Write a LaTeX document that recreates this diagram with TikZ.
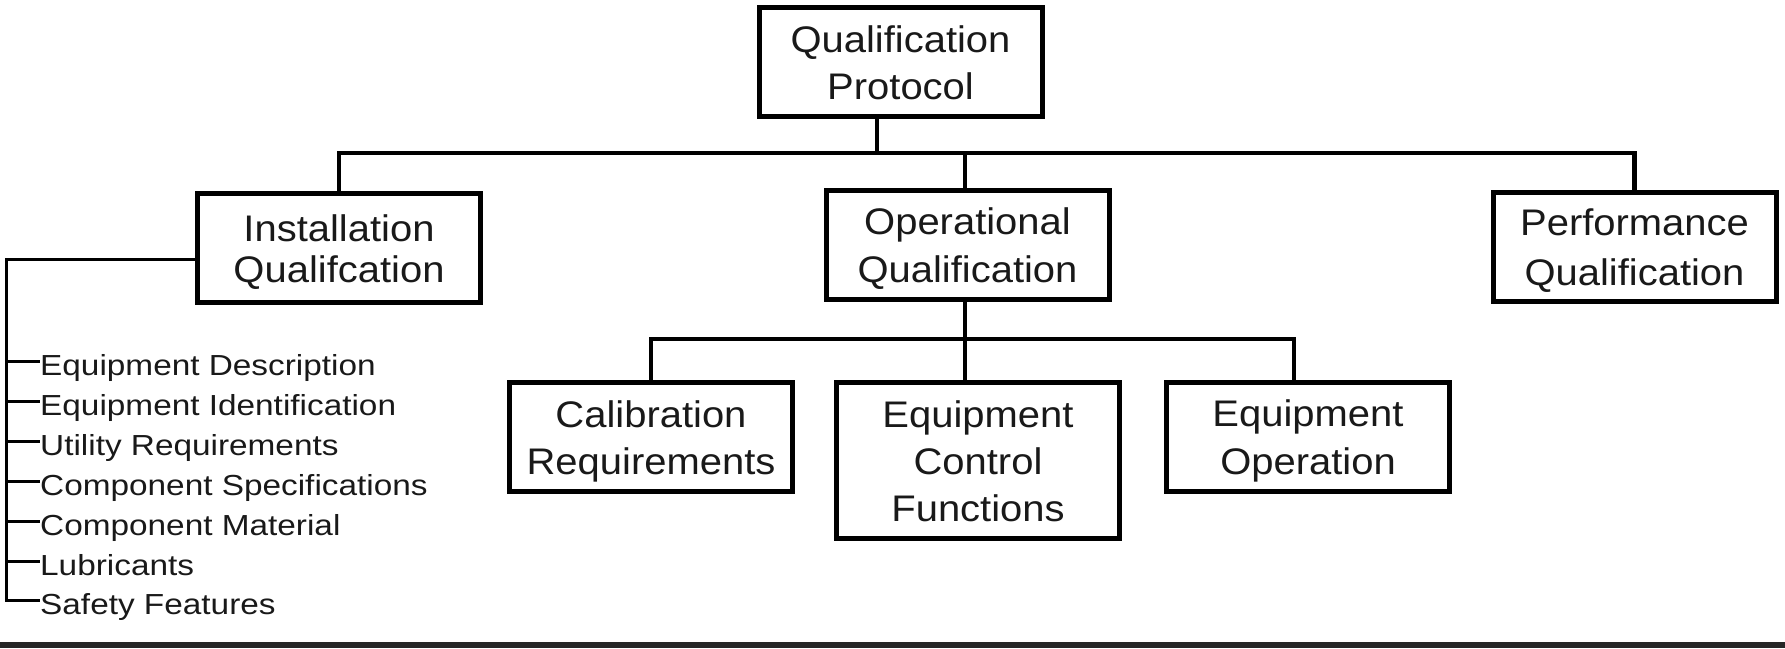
\documentclass[tikz,border=0pt]{standalone}
\usepackage{fontspec}
\setmainfont{Liberation Sans}
\newfontfamily\boxfont{Liberation Sans}[FakeStretch=1.08]
\newfontfamily\itemfont{Liberation Sans}[FakeStretch=1.15]
\begin{document}
\begin{tikzpicture}[x=1pt,y=-1pt,
  box/.style={draw=black, line width=5pt, minimum width=283pt, minimum height=109pt,
    inner sep=0pt, align=center, text=black!90, text height=74pt, text depth=0pt,
    font=\boxfont\fontsize{37}{47}\selectfont},
  threeline/.style={text height=121pt, minimum height=156pt},
  conn/.style={line width=4.5pt},
  thinline/.style={line width=3pt},
  item/.style={anchor=west, inner sep=0pt, text=black!90, text height=28pt, text depth=0pt,
    font=\itemfont\fontsize{29}{35}\selectfont}]
\useasboundingbox (0,0) rectangle (1785,648);

% boxes
\node[box] (qp)  at (900.5,62)  {Qualification\\Protocol};
\node[box, text height=68pt, font=\boxfont\fontsize{37}{41}\selectfont] (iq) at (339,248) {Installation\\Qualifcation};
\node[box, text height=75pt, font=\boxfont\fontsize{37}{48}\selectfont] (oq) at (967.5,245) {Operational\\Qualification};
\node[box, text height=77pt, font=\boxfont\fontsize{37}{50}\selectfont] (pq) at (1634.5,247) {Performance\\Qualification};
\node[box] (cr)  at (651,437)   {Calibration\\Requirements};
\node[box, threeline] (ecf) at (978,460.5) {Equipment\\Control\\Functions};
\node[box, text height=75pt, font=\boxfont\fontsize{37}{48}\selectfont] (eo) at (1308,436.5) {Equipment\\Operation};

% main bus
\coordinate (bus) at (877,153);
\draw[conn] (bus |- qp.south) -- (bus);
\draw[conn] (iq.north) -- (iq.north |- bus) -- (pq.north |- bus) -- (pq.north);
\draw[conn] ([xshift=-2.5pt]oq.north |- bus) -- ([xshift=-2.5pt]oq.north);

% operational sub bus
\coordinate (sbus) at (965,339);
\draw[conn] ([xshift=-2.5pt]oq.south) -- ([xshift=-2.5pt]oq.south |- ecf.north);
\draw[conn] (cr.north) -- (cr.north |- sbus) -- ([xshift=-14pt]eo.north |- sbus) -- ([xshift=-14pt]eo.north);

% list items
\node[item] (i1) at (40,361) {Equipment Description};
\node[item] (i2) at (40,401) {Equipment Identification};
\node[item] (i3) at (40,441) {Utility Requirements};
\node[item] (i4) at (40,481) {Component Specifications};
\node[item] (i5) at (40,521) {Component Material};
\node[item] (i6) at (40,561) {Lubricants};
\node[item] (i7) at (40,600) {Safety Features};

\coordinate (vt) at (6,259);
\draw[thinline] ([yshift=-11pt]iq.west) -- (vt) -- (vt |- i7.west) -- (i7.west);
\foreach \n in {1,...,6} {\draw[thinline] (vt |- i\n.west) -- (i\n.west);}

% bottom rule
\fill[black!85] (0,642) rectangle (1785,648);
\end{tikzpicture}
\end{document}
